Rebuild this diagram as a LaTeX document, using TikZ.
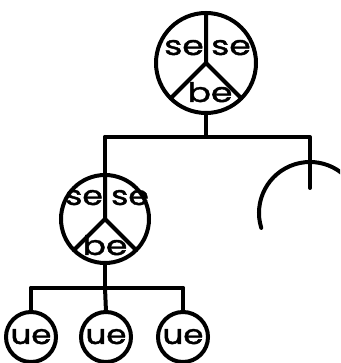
\documentclass[tikz,border=0pt]{standalone}
\usepackage{fontspec}
\newfontfamily\labfont[FakeBold=1.5]{Poppins}
\begin{document}
\begin{tikzpicture}[x=1pt,y=1pt,
  ln/.style={line width=4pt, line cap=round, line join=round},
  ring/.style={circle, draw, line width=4pt, inner sep=0pt, outer sep=0pt},
  lab/.style={inner sep=0pt, anchor=base, font=\labfont\fontsize{27}{27}\selectfont}]
\useasboundingbox (0,0) rectangle (340,363);
\clip (0,0) rectangle (340,363);
% top circle
\node[ring, minimum size=100pt] (t) at (206,300) {};
\draw[ln] (t.north) -- (t.center) -- (t.-135);
\draw[ln] (t.center) -- (t.-45);
\node[lab] (ts1) at (184,308) {\scalebox{1.28}[1]{se}};
\node[lab] (ts2) at (231,308) {\scalebox{1.28}[1]{se}};
\node[lab] (tb) at (210,261) {\scalebox{1.28}[1]{be}};
% junctions
\coordinate (j1) at (206,226);
\coordinate (jl) at (105,226);
\coordinate (jr) at (310,226);
\coordinate (rv) at (310,175);
\draw[ln] (t.south) -- (j1);
\draw[ln] (jl) -- (jr) -- (rv);
% right partial circle
\coordinate (rc) at (310,150);
\draw[ln] (rc) ++(197:51) arc (197:20:51);
% left circle
\node[ring, minimum size=88pt] (l) at (105,144) {};
\draw[ln] (jl) -- (l.north);
\draw[ln] (l.north) -- (l.center) -- (l.-135);
\draw[ln] (l.center) -- (l.-45);
\node[lab] (ls1) at (84,158) {\scalebox{1.22}[1]{se}};
\node[lab] (ls2) at (130,158) {\scalebox{1.22}[1]{se}};
\node[lab] (lb) at (105,108) {\scalebox{1.28}[1]{be}};
% lower junctions
\coordinate (k) at (105,75);
\coordinate (k1) at (31,75);
\coordinate (k3) at (183,75);
\draw[ln] (l.south) -- (k);
\draw[ln] (k1) -- (k3);
% small circles
\node[ring, minimum size=50pt] (u1) at (31,26) {};
\node[ring, minimum size=50pt] (u2) at (106,26) {};
\node[ring, minimum size=50pt] (u3) at (183,26) {};
\draw[ln] (k1) -- (u1.north);
\draw[ln] (k) -- (u2.north);
\draw[ln] (k3) -- (u3.north);
\node[lab] (ue1) at (31,19) {\scalebox{1.2}[1]{ue}};
\node[lab] (ue2) at (106,19) {\scalebox{1.2}[1]{ue}};
\node[lab] (ue3) at (183,19) {\scalebox{1.2}[1]{ue}};
\end{tikzpicture}
\end{document}
